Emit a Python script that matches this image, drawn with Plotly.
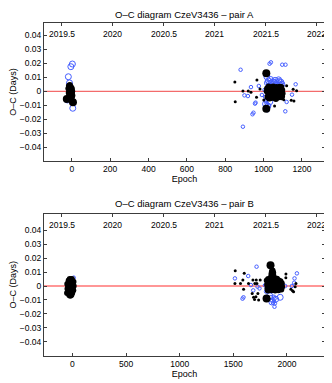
import plotly.graph_objects as go

# ---- pair A: primary minima (black, filled) by weight class ----
a_pri_epoch = [-15, -10, -5, 0, -18, -12, -6, 2, -16, -9, -3, 3, -14, -7, 0, -11, -4, -2, -8, 1,
               1018, 1022, 1020, 1026, 1030, 1033, 1028, 1038, 1041, 1044, 1047, 1050, 1052, 1055,
               1058, 1061, 1064, 1067, 1070, 1072, 1075, 1078, 1081, 1084, 1087, 1090, 1092, 1093,
               1036, 1064, 1084, 1016, 1046, 1074, 1097, 1099, 1096]
a_pri_oc = [0.004, 0.0045, 0.003, 0.002, 0.002, 0.001, 0.0005, 0.0, -0.001, -0.0015, -0.002, -0.003,
            -0.003, -0.004, -0.0045, -0.005, -0.006, 0.001, 0.0025, -0.001,
            0.002, -0.001, -0.004, 0.0035, 0.0005, -0.0025, -0.0052, 0.0028, -0.0008, -0.0038, 0.0012,
            0.0035, -0.0022, -0.0048, 0.0022, -0.0004, -0.0032, 0.0031, 0.0008, -0.0018, -0.0045,
            0.0025, -0.0006, -0.0035, 0.0015, -0.002, 0.003, -0.0042, -0.005, -0.0055, 0.0032, 0.0,
            0.0005, 0.0018, 0.001, -0.0015, -0.0035]
a_pri_big_epoch = [1014, 1014, -26, 6]
a_pri_big_oc = [0.0129, -0.0125, -0.0055, -0.0079]
a_pri_low_epoch = [850, 852, 892, 920, 934, 965, 963, 1001, 1057, 1120, 1154, 1172, 1144, 1158, 981, 1105]
a_pri_low_oc = [0.0066, -0.0074, 0.0002, 0.0002, -0.0007, 0.008, -0.0043, -0.0062, -0.0105, 0.004,
                0.0014, 0.0004, -0.0064, -0.0069, 0.0016, -0.006]

# ---- pair A: secondary minima (blue, open) ----
a_sec_epoch = [-18, -5, 3, 5, -23, -12,
               1017, 1025, 1035, 1048, 1060, 1072, 1082, 1090, 1095, 1040, 1030, 1065, 1085, 1020,
               1055, 1078, 1010, 1022, 1032]
a_sec_oc = [0.0104, 0.0176, 0.0195, -0.0121, -0.0062, 0.006,
            0.0104, 0.0075, 0.0085, 0.0068, 0.0078, 0.0062, 0.007, 0.0065, 0.005, 0.006, 0.0055,
            0.0055, 0.0045, 0.006, 0.0062, 0.0082, -0.009, -0.0105, -0.0075]
a_sec_low_epoch = [880, 892, 942, 947, 958, 955, 900, 918, 934, 975, 991, 1031, 1038, 1097, 1114,
                   1167, 1148, 1120, 1113, 1005, 1008, 1012, 1015, 1020, 1018, 1028]
a_sec_low_oc = [0.0154, -0.0253, -0.0164, -0.0153, -0.0081, -0.0088, -0.0029, -0.0034, 0.003, 0.0038,
                -0.0026, 0.0197, 0.0207, 0.019, 0.019, 0.005, -0.0024, -0.0076, -0.0143, 0.001,
                -0.004, -0.007, -0.0085, -0.0135, -0.0128, -0.01]

# ---- pair B: primary minima ----
b_pri_epoch = [-35, -25, -15, -5, 0, -38, -28, -18, -8, 2, -40, -30, -20, -10, 0, -36, -26, -16, -6, 4,
               -33, -22, -12, -2, -30, -20, -10, -25, -5, -48, -46, -50, 10, 12, 8,
               1812, 1815, 1818, 1825, 1828, 1832, 1835, 1842, 1846, 1850, 1853, 1856, 1860, 1866,
               1872, 1876, 1862, 1868, 1872, 1880, 1884, 1888, 1895, 1898, 1902, 1908, 1912, 1915,
               1920, 1925, 1930, 1935, 1940, 1944, 1948, 1952, 1955, 1822, 1858, 1905, 1890]
b_pri_oc = [0.004, 0.005, 0.0045, 0.005, 0.0035, 0.002, 0.0025, 0.0015, 0.002, 0.001, 0.0, -0.0005,
            0.0, -0.001, -0.0015, -0.002, -0.003, -0.0025, -0.0035, -0.003, -0.0045, -0.005, -0.0055,
            -0.005, -0.0065, -0.007, -0.0065, 0.0, 0.0008, 0.0015, -0.002, -0.005, 0.003, 0.0, -0.003,
            0.004, 0.001, -0.002, 0.005, 0.0025, -0.0005, -0.003, 0.0045, 0.0015, -0.0015, 0.0068,
            0.0088, 0.0105, 0.0112, 0.0095, 0.007, 0.003, 0.0, -0.0028, 0.005, 0.002, -0.001, 0.0045,
            0.0015, -0.002, 0.0052, 0.0025, -0.0005, -0.003, 0.004, 0.001, -0.0018, 0.0035, 0.0005,
            -0.0025, 0.002, -0.0005, -0.0032, -0.003, 0.0008, -0.0032]
b_pri_big_epoch = [1847, 1810]
b_pri_big_oc = [0.0149, -0.0089]
b_pri_low_epoch = [1518, 1515, 1602, 1567, 1589, 1596, 1642, 1676, 1683, 1689, 1701, 1714, 1720, 1711,
                   1698, 1729, 1736, 1751, 1991, 1990, 2084, 2077, 2037, 2062, 2052]
b_pri_low_oc = [0.011, 0.0019, 0.0091, 0.0019, 0.0043, -0.0024, 0.0019, -0.0053, 0.0043, -0.0081,
                0.0019, 0.0043, 0.0019, -0.0077, -0.0096, -0.0053, -0.01, 0.0043, 0.0086, 0.006,
                0.0019, -0.0005, -0.0024, -0.0041, -0.0034]

# ---- pair B: secondary minima ----
b_sec_epoch = [1937, 1860, 1895, 1840]
b_sec_oc = [-0.0081, -0.0115, -0.0095, -0.007]
b_sec_low_epoch = [12, -45, 1515, 1595, 1586, 1639, 1664, 1686, 1717, 1726, 1744, 2093, 2071, 2068, 2046,
                   1984, 1878, 1885, 1880, 1888, 1884, 1850, 1862, 1870, 1960, 1805, 1795]
b_sec_low_oc = [0.006, -0.004, 0.0055, -0.0081, -0.0091, 0.0072, 0.0007, -0.0031, 0.0139, -0.0005,
                -0.0017, 0.0091, 0.0055, 0.0024, 0.0, 0.0, -0.0077, -0.009, -0.011, -0.0125, -0.0149,
                -0.008, -0.0105, -0.012, 0.001, -0.004, 0.0005]

year_ticks = [2019.5, 2020, 2020.5, 2021, 2021.5, 2022]
year_labels = ["2019.5", "2020", "2020.5", "2021", "2021.5", "2022"]
oc_ticks = [0.04, 0.03, 0.02, 0.01, 0, -0.01, -0.02, -0.03, -0.04]
oc_labels = ["0.04", "0.03", "0.02", "0.01", "0", "\u22120.01", "\u22120.02", "\u22120.03", "\u22120.04"]

BLUE = "rgb(70,95,255)"
FONT = "Liberation Sans, Arial, sans-serif"


def black(x, y, size, xa, ya):
    return go.Scatter(x=x, y=y, mode="markers", xaxis=xa, yaxis=ya, showlegend=False,
                      marker=dict(color="black", size=size, line=dict(width=0)))


def blue(x, y, size, xa, ya):
    return go.Scatter(x=x, y=y, mode="markers", xaxis=xa, yaxis=ya, showlegend=False,
                      marker=dict(symbol="circle-open", color=BLUE, size=size, line=dict(width=1)))


fig = go.Figure()
fig.add_trace(blue(a_sec_epoch, a_sec_oc, 6, "x", "y"))
fig.add_trace(blue(a_sec_low_epoch, a_sec_low_oc, 3.5, "x", "y"))
fig.add_trace(black(a_pri_epoch, a_pri_oc, 6, "x", "y"))
fig.add_trace(black(a_pri_low_epoch, a_pri_low_oc, 3, "x", "y"))
fig.add_trace(black(a_pri_big_epoch, a_pri_big_oc, 8, "x", "y"))

fig.add_trace(blue(b_sec_epoch, b_sec_oc, 6, "x2", "y2"))
fig.add_trace(blue(b_sec_low_epoch, b_sec_low_oc, 3.5, "x2", "y2"))
fig.add_trace(black(b_pri_epoch, b_pri_oc, 6, "x2", "y2"))
fig.add_trace(black(b_pri_low_epoch, b_pri_low_oc, 3, "x2", "y2"))
fig.add_trace(black(b_pri_big_epoch, b_pri_big_oc, 8, "x2", "y2"))

# year axes need a trace to be drawn
fig.add_trace(go.Scatter(x=[None], y=[None], xaxis="x3", yaxis="y", showlegend=False, hoverinfo="skip"))
fig.add_trace(go.Scatter(x=[None], y=[None], xaxis="x4", yaxis="y2", showlegend=False, hoverinfo="skip"))

ax_common = dict(showgrid=False, zeroline=False, showline=True, linecolor="#3c3c3c", linewidth=1,
                 automargin=False, ticks="inside", ticklen=3, tickcolor="#3c3c3c",
                 tickfont=dict(size=8.5, color="black"))
y_common = dict(ax_common, mirror="ticks", tickvals=oc_ticks, ticktext=oc_labels,
                title=dict(text="O\u2013C (Days)", font=dict(size=9), standoff=4))
year_common = dict(showgrid=False, zeroline=False, showline=False, side="top", ticks="inside", ticklen=3,
                   automargin=False, tickcolor="#3c3c3c", tickvals=year_ticks, showticklabels=False,
                   range=[2019.326, 2022.081])

annotations = [
    dict(text="O\u2013C diagram CzeV3436 \u2013 pair A", xref="paper", yref="paper", x=0.544, y=1,
         yanchor="top", borderpad=0, showarrow=False, font=dict(size=9.5)),
    dict(text="O\u2013C diagram CzeV3436 \u2013 pair B", xref="paper", yref="paper", x=0.544, y=0.48,
         yanchor="middle", showarrow=False, font=dict(size=9.5)),
]
for xref, yref in (("x3", "y domain"), ("x4", "y2 domain")):
    for yr, lab in zip(year_ticks, year_labels):
        annotations.append(dict(text=lab, x=yr, y=1, xref=xref, yref=yref, yanchor="top", yshift=-4,
                                showarrow=False, font=dict(size=8.5)))

# page body adds an 8 px margin, so the figure is sized to the remaining window
fig.update_layout(
    width=324, height=375,
    margin=dict(l=0, r=0, t=0, b=0),
    paper_bgcolor="white", plot_bgcolor="white",
    font=dict(family=FONT, color="black"),
    xaxis=dict(ax_common, domain=[0.1111, 0.9784], anchor="y", mirror=True, range=[-145, 1320],
               tickvals=[0, 200, 400, 600, 800, 1000, 1200],
               title=dict(text="Epoch", font=dict(size=9), standoff=2)),
    yaxis=dict(y_common, domain=[0.592, 0.96], anchor="x", range=[-0.0498, 0.0488]),
    xaxis3=dict(year_common, overlaying="x", anchor="y"),
    xaxis2=dict(ax_common, domain=[0.1111, 0.9784], anchor="y2", mirror=True, range=[-265, 2355],
                tickvals=[0, 500, 1000, 1500, 2000],
                title=dict(text="Epoch", font=dict(size=9), standoff=2)),
    yaxis2=dict(y_common, domain=[0.0728, 0.4507], anchor="x2", range=[-0.0501, 0.0518]),
    xaxis4=dict(year_common, overlaying="x2", anchor="y2"),
    shapes=[
        dict(type="line", xref="x domain", yref="y", x0=0, x1=1, y0=0, y1=0, layer="below",
             line=dict(color="rgb(240,70,70)", width=1)),
        dict(type="line", xref="x2 domain", yref="y2", x0=0, x1=1, y0=0, y1=0, layer="below",
             line=dict(color="rgb(255,150,150)", width=2)),
    ],
    annotations=annotations,
)

fig.write_html("out.html")
